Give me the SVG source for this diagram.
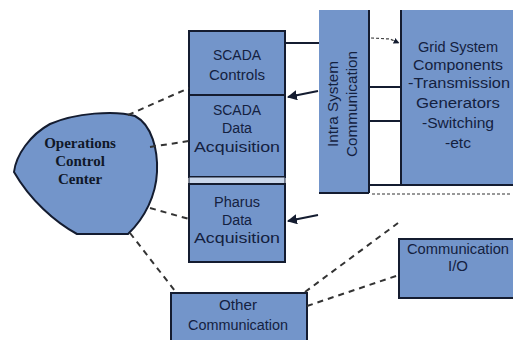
<svg xmlns="http://www.w3.org/2000/svg" width="513" height="340" viewBox="0 0 513 340">
<defs>
<style>
.box{fill:#7395ca;stroke:#141c30;stroke-width:2}
.t{font-family:"Liberation Sans",Arial,sans-serif;font-size:14px;fill:#14213f;text-anchor:middle}
.ts{font-family:"Liberation Serif","Times New Roman",serif;font-size:15px;font-weight:bold;fill:#101828;text-anchor:middle}
.dash{fill:none;stroke:#333;stroke-width:2;stroke-dasharray:6,5}
.solid{fill:none;stroke:#141c30;stroke-width:2}
</style>
<marker id="ah" viewBox="0 0 10 10" refX="9" refY="5" markerWidth="5" markerHeight="5" orient="auto">
<path d="M0,0 L10,5 L0,10 z" fill="#141c30"/>
</marker>
</defs>
<rect width="513" height="340" fill="#fff"/>
<g id="occ">
<path class="box" d="M14,172 C16,155 30,135 50,124 C75,113 115,110 135,116 C152,125 158,150 157,172 C156,195 145,218 128,234 L77,234 C55,222 30,200 14,172 Z"/>
<text class="ts" x="80" y="148">Operations</text>
<text class="ts" x="80" y="166">Control</text>
<text class="ts" x="80" y="184">Center</text>
</g>
<g id="scada">
<rect class="box" x="189" y="31" width="96" height="146"/>
<line class="solid" x1="189" y1="95" x2="285" y2="95"/>
<rect x="189" y="177" width="96" height="7" fill="#c9d6ea" stroke="#141c30" stroke-width="1"/>
<text class="t" x="237" y="60" textLength="48" lengthAdjust="spacingAndGlyphs">SCADA</text>
<text class="t" x="237" y="80" textLength="56" lengthAdjust="spacingAndGlyphs">Controls</text>
<text class="t" x="237" y="115" textLength="48" lengthAdjust="spacingAndGlyphs">SCADA</text>
<text class="t" x="237" y="133" textLength="30" lengthAdjust="spacingAndGlyphs">Data</text>
<text class="t" x="237" y="152" textLength="86" lengthAdjust="spacingAndGlyphs">Acquisition</text>
</g>
<g id="pharus">
<rect class="box" x="189" y="184" width="96" height="78"/>
<text class="t" x="237" y="207" textLength="46" lengthAdjust="spacingAndGlyphs">Pharus</text>
<text class="t" x="237" y="225" textLength="30" lengthAdjust="spacingAndGlyphs">Data</text>
<text class="t" x="237" y="243" textLength="86" lengthAdjust="spacingAndGlyphs">Acquisition</text>
</g>
<g id="intra">
<rect x="319" y="10" width="50" height="183" fill="#7395ca"/>
<line class="solid" x1="369" y1="10" x2="369" y2="193"/>
<line class="solid" x1="319" y1="193" x2="369" y2="193"/>
<text class="t" transform="translate(338,104) rotate(-90)" textLength="86" lengthAdjust="spacingAndGlyphs">Intra System</text>
<text class="t" transform="translate(357,104) rotate(-90)" textLength="106" lengthAdjust="spacingAndGlyphs">Communication</text>
</g>
<g id="grid">
<rect x="401" y="10" width="112" height="175" fill="#7395ca"/>
<line class="solid" x1="401" y1="10" x2="401" y2="185"/>
<text class="t" x="458" y="52" textLength="80" lengthAdjust="spacingAndGlyphs">Grid System</text>
<text class="t" x="458" y="70" textLength="90" lengthAdjust="spacingAndGlyphs">Components</text>
<text class="t" x="459" y="88" textLength="102" lengthAdjust="spacingAndGlyphs">-Transmission</text>
<text class="t" x="458" y="108" textLength="84" lengthAdjust="spacingAndGlyphs">Generators</text>
<text class="t" x="458" y="128" textLength="72" lengthAdjust="spacingAndGlyphs">-Switching</text>
<text class="t" x="458" y="148" textLength="26" lengthAdjust="spacingAndGlyphs">-etc</text>
</g>
<g id="commio">
<rect class="box" x="399" y="239" width="116" height="59"/>
<text class="t" x="458" y="254" textLength="102" lengthAdjust="spacingAndGlyphs">Communication</text>
<text class="t" x="458" y="271" textLength="20" lengthAdjust="spacingAndGlyphs">I/O</text>
</g>
<g id="other">
<rect class="box" x="171" y="293" width="136" height="50"/>
<text class="t" x="238" y="310" textLength="38" lengthAdjust="spacingAndGlyphs">Other</text>
<text class="t" x="238" y="330" textLength="100" lengthAdjust="spacingAndGlyphs">Communication</text>
</g>
<g id="connectors">
<line class="solid" x1="285" y1="43" x2="319" y2="43"/>
<line class="solid" x1="369" y1="87" x2="401" y2="87"/>
<line class="solid" x1="369" y1="121" x2="401" y2="121"/>
<line class="solid" x1="369" y1="185" x2="513" y2="185"/>
<path d="M371,38 L390,39 L399,43" fill="none" stroke="#444" stroke-width="1.2" stroke-dasharray="3,2" marker-end="url(#ah)"/>
<line x1="318" y1="91" x2="288" y2="97" stroke="#141c30" stroke-width="2" marker-end="url(#ah)"/>
<line x1="318" y1="215" x2="288" y2="221" stroke="#141c30" stroke-width="2" marker-end="url(#ah)"/>
<line x1="372" y1="194" x2="512" y2="194" stroke="#777" stroke-width="1.5" stroke-dasharray="3,2"/>
<line class="dash" x1="128" y1="115" x2="189" y2="88"/>
<line class="dash" x1="150" y1="147" x2="189" y2="141"/>
<line class="dash" x1="150" y1="208" x2="189" y2="219" stroke-dasharray="6,4,2,4"/>
<line class="dash" x1="130" y1="233" x2="175" y2="291"/>
<line class="dash" x1="305" y1="292" x2="398" y2="223"/>
<line class="dash" x1="307" y1="306" x2="399" y2="275" stroke-dasharray="6,4,2,4"/>
</g>
</svg>
